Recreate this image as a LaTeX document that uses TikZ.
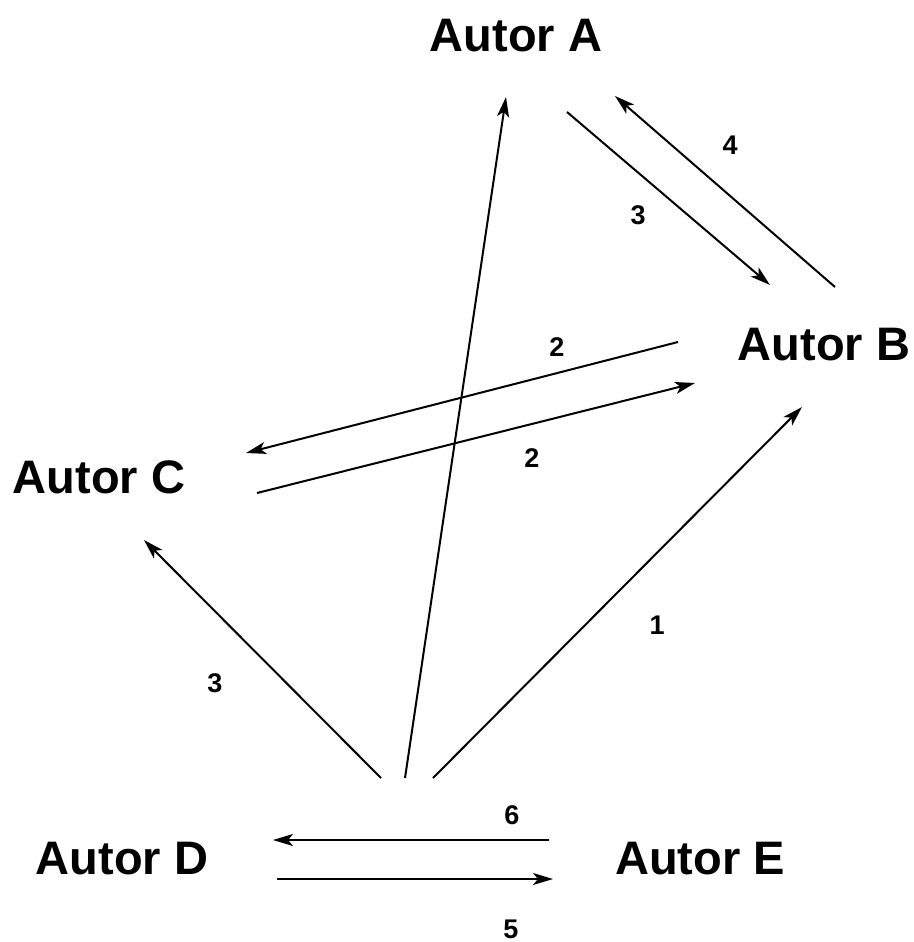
\documentclass[tikz,border=0pt]{standalone}
\usepackage{fontspec}
\setmainfont{Liberation Sans}
\usetikzlibrary{arrows.meta, positioning}

\begin{document}
\begin{tikzpicture}[x=1pt,y=-1pt,->,>={Stealth[length=20pt,width=12pt,inset=5pt]},
            line width=2pt,
            autor/.style={font=\bfseries\fontsize{47}{47}\selectfont,inner sep=0pt,anchor=base},
            zahl/.style={font=\bfseries\fontsize{27}{27}\selectfont,inner sep=0pt}]
            \useasboundingbox (0,0) rectangle (913,942);

            \node[autor] (A) at (516,52)  {Autor A};
            \node[autor] (B) at (824,360) {Autor B};
            \node[autor] (C) at (99,493)  {Autor C};
            \node[autor] (D) at (122,874) {Autor D};
            \node[autor] (E) at (700,874) {Autor E};

            % Enden der Pfeile
            \coordinate (da1) at (405,778); \coordinate (da2) at (506,97);
            \coordinate (ab1) at (567,112); \coordinate (ab2) at (770,285);
            \coordinate (ba1) at (835,287); \coordinate (ba2) at (615,96);
            \coordinate (bc1) at (678,342); \coordinate (bc2) at (246,453);
            \coordinate (cb1) at (257,493); \coordinate (cb2) at (695,383);
            \coordinate (dc1) at (381,778); \coordinate (dc2) at (144,540);
            \coordinate (db1) at (433,778); \coordinate (db2) at (802,407);
            \coordinate (ed1) at (549,840); \coordinate (ed2) at (273,840);
            \coordinate (de1) at (277,879); \coordinate (de2) at (553,879);

            \path (da1) edge (da2)
            (ab1) edge (ab2)
            (ba1) edge (ba2)
            (bc1) edge (bc2)
            (cb1) edge (cb2)
            (dc1) edge (dc2)
            (db1) edge (db2)
            (ed1) edge (ed2)
            (de1) edge (de2);

            \node[zahl] (n-ab) at (638,215) {3};
            \node[zahl] (n-ba) at (730,145) {4};
            \node[zahl] (n-bc) at (557,347) {2};
            \node[zahl] (n-cb) at (532,458) {2};
            \node[zahl] (n-dc) at (215,683) {3};
            \node[zahl] (n-db) at (657,625) {1};
            \node[zahl] (n-ed) at (512,815) {6};
            \node[zahl] (n-de) at (511,929) {5};
\end{tikzpicture}
\end{document}
